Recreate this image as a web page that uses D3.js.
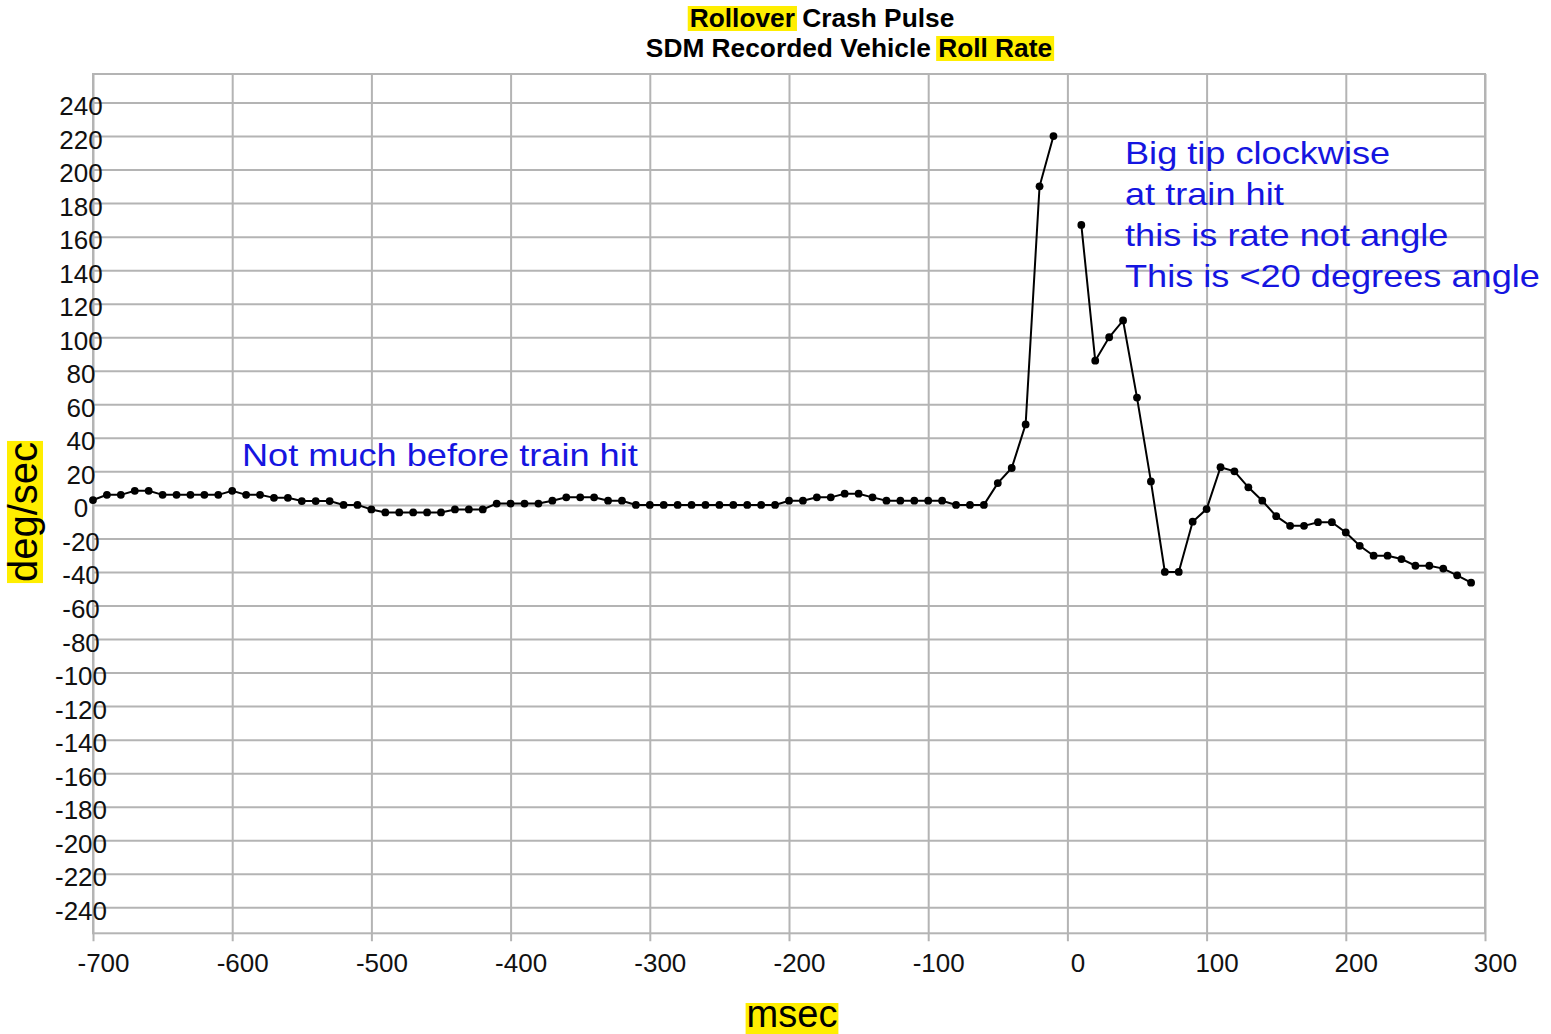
<!DOCTYPE html>
<html>
<head>
<meta charset="utf-8">
<script src="https://cdn.jsdelivr.net/npm/d3@7"></script>
<style>
  html, body { margin: 0; padding: 0; background: #fff; }
  svg { display: block; font-family: "Liberation Sans", Arial, sans-serif; }
</style>
</head>
<body>
<svg id="chart" width="1551" height="1034"></svg>
<script>
// ---- data ----
const times = d3.range(-700, 300, 10); // msec, -700 .. 290
const rollRate = [
  2.9, 6, 6, 8.4, 8.4, 6, 6, 6, 6, 6,            // -700 .. -610
  8.4, 6, 6, 4.2, 4.2, 2.3, 2.3, 2.3, 0, 0,      // -600 .. -510
  -2.7, -4.5, -4.5, -4.5, -4.5, -4.5, -2.7, -2.7, -2.7, 0.8, // -500 .. -410
  0.8, 0.8, 0.8, 2.5, 4.5, 4.5, 4.5, 2.5, 2.5, 0, // -400 .. -310
  0, 0, 0, 0, 0, 0, 0, 0, 0, 0,                  // -300 .. -210
  2.5, 2.5, 4.5, 4.5, 6.7, 6.7, 4.5, 2.5, 2.5, 2.5, // -200 .. -110
  2.5, 2.5, 0, 0, 0, 13, 22, 48, 190, 220,       // -100 .. -10
  null, 167, 86, 100, 110, 64, 14, -40, -40, -10, // 0 .. 90
  -2.5, 22.5, 20, 10.5, 2.5, -6.7, -12.5, -12.5, -10.3, -10.3, // 100 .. 190
  -16.4, -24.4, -30.3, -30.3, -32.3, -36.3, -36.3, -38, -42, -46.4 // 200 .. 290
];
const xTicks = [-700, -600, -500, -400, -300, -200, -100, 0, 100, 200, 300];
const yTicks = d3.range(-240, 241, 20);
const titleLines = ["Rollover Crash Pulse", "SDM Recorded Vehicle Roll Rate"];
const titleHighlights = [["Rollover"], ["Roll Rate"]];
const xTitle = "msec";
const yTitle = "deg/sec";
const note1 = ["Not much before train hit"];
const note2 = ["Big tip clockwise", "at train hit", "this is rate not angle", "This is <20 degrees angle"];

// ---- layout ----
const pLeft = 93, pRight = 1485, pTop = 74, pBottom = 933.3;
const svg = d3.select("#chart");
const x = d3.scaleLinear().domain([-700, 300]).range([pLeft, pRight]);
const y = d3.scaleLinear().domain([-255.5, 257]).range([pBottom, pTop]);
const gridColor = "#b4b4b4";
const highlight = "#ffee00";
const fmt = d => String(d); // plain hyphen-minus

// grid via axes
const gx = svg.append("g").attr("transform", `translate(0,${pBottom})`)
  .call(d3.axisBottom(x).tickValues(xTicks).tickSize(-(pBottom - pTop)).tickSizeOuter(0).tickFormat(fmt));
gx.select(".domain").remove();
gx.selectAll(".tick line").attr("stroke", gridColor).attr("stroke-width", 2).attr("y1", 8);
gx.selectAll(".tick text")
  .attr("y", 39).attr("dy", null).attr("dx", 10)
  .attr("font-size", 26).attr("fill", "#111")
  .style("font-family", "'Liberation Sans', Arial, sans-serif");

const gy = svg.append("g").attr("transform", `translate(${pLeft},0)`)
  .call(d3.axisLeft(y).tickValues(yTicks).tickSize(-(pRight - pLeft)).tickSizeOuter(0).tickFormat(fmt));
gy.select(".domain").remove();
gy.selectAll(".tick line").attr("stroke", gridColor).attr("stroke-width", 2);
gy.selectAll(".tick text")
  .attr("x", -12).attr("dy", 12).attr("text-anchor", "middle")
  .attr("font-size", 26).attr("fill", "#111")
  .style("font-family", "'Liberation Sans', Arial, sans-serif");

// frame
svg.append("rect")
  .attr("x", pLeft).attr("y", pTop).attr("width", pRight - pLeft).attr("height", pBottom - pTop)
  .attr("fill", "none").attr("stroke", gridColor).attr("stroke-width", 2);
gy.raise();

// series
const data = times.map((t, i) => ({ t, v: rollRate[i] }));
const line = d3.line().defined(d => d.v != null).x(d => x(d.t)).y(d => y(d.v));
svg.append("path").datum(data)
  .attr("d", line).attr("fill", "none").attr("stroke", "#000").attr("stroke-width", 2);
svg.append("g").selectAll("circle").data(data.filter(d => d.v != null)).join("circle")
  .attr("cx", d => x(d.t)).attr("cy", d => y(d.v)).attr("r", 3.9).attr("fill", "#000");

// helper: text with highlighted substrings
function highlightText(g, textSel, subs) {
  const node = textSel.node();
  const str = node.textContent;
  subs.forEach(s => {
    const i = str.indexOf(s);
    if (i < 0) return;
    const a = node.getExtentOfChar(i);
    const b = node.getExtentOfChar(i + s.length - 1);
    g.insert("rect", "text")
      .attr("x", a.x - 2).attr("y", a.y + 3)
      .attr("width", b.x + b.width - a.x + 4).attr("height", a.height - 5)
      .attr("fill", highlight);
  });
}

// title
const titleX = [822, 849];
const titleY = [27, 57];
titleLines.forEach((t, i) => {
  const g = svg.append("g");
  const tx = g.append("text").attr("x", titleX[i]).attr("y", titleY[i])
    .attr("text-anchor", "middle").attr("font-size", 26.3).attr("font-weight", "bold")
    .attr("fill", "#000").text(t);
  highlightText(g, tx, titleHighlights[i]);
});

// x axis title
{
  const g = svg.append("g");
  const tx = g.append("text").attr("x", 792).attr("y", 1027)
    .attr("text-anchor", "middle").attr("font-size", 38).attr("fill", "#000").text(xTitle);
  const bb = tx.node().getBBox();
  g.insert("rect", "text").attr("x", bb.x - 1).attr("y", 1003).attr("width", bb.width + 2).attr("height", 31).attr("fill", highlight);
}
// y axis title
{
  const g = svg.append("g").attr("transform", "translate(37,512) rotate(-90)");
  const tx = g.append("text").attr("x", 0).attr("y", 0)
    .attr("text-anchor", "middle").attr("font-size", 40).attr("fill", "#000").text(yTitle);
  const bb = tx.node().getBBox();
  g.insert("rect", "text").attr("x", bb.x - 1).attr("y", -30).attr("width", bb.width + 2).attr("height", 36).attr("fill", highlight);
}

// annotations
const blue = "#1515e0";
function note(lines, x0, y0, dyLine) {
  const g = svg.append("g").attr("transform", `translate(${x0},${y0}) scale(1.13,1)`);
  lines.forEach((l, i) => {
    g.append("text").attr("x", 0).attr("y", i * dyLine)
      .attr("font-size", 32).attr("fill", blue).text(l);
  });
}
note(note1, 242, 466, 0);
note(note2, 1125, 164, 41);
</script>
</body>
</html>
